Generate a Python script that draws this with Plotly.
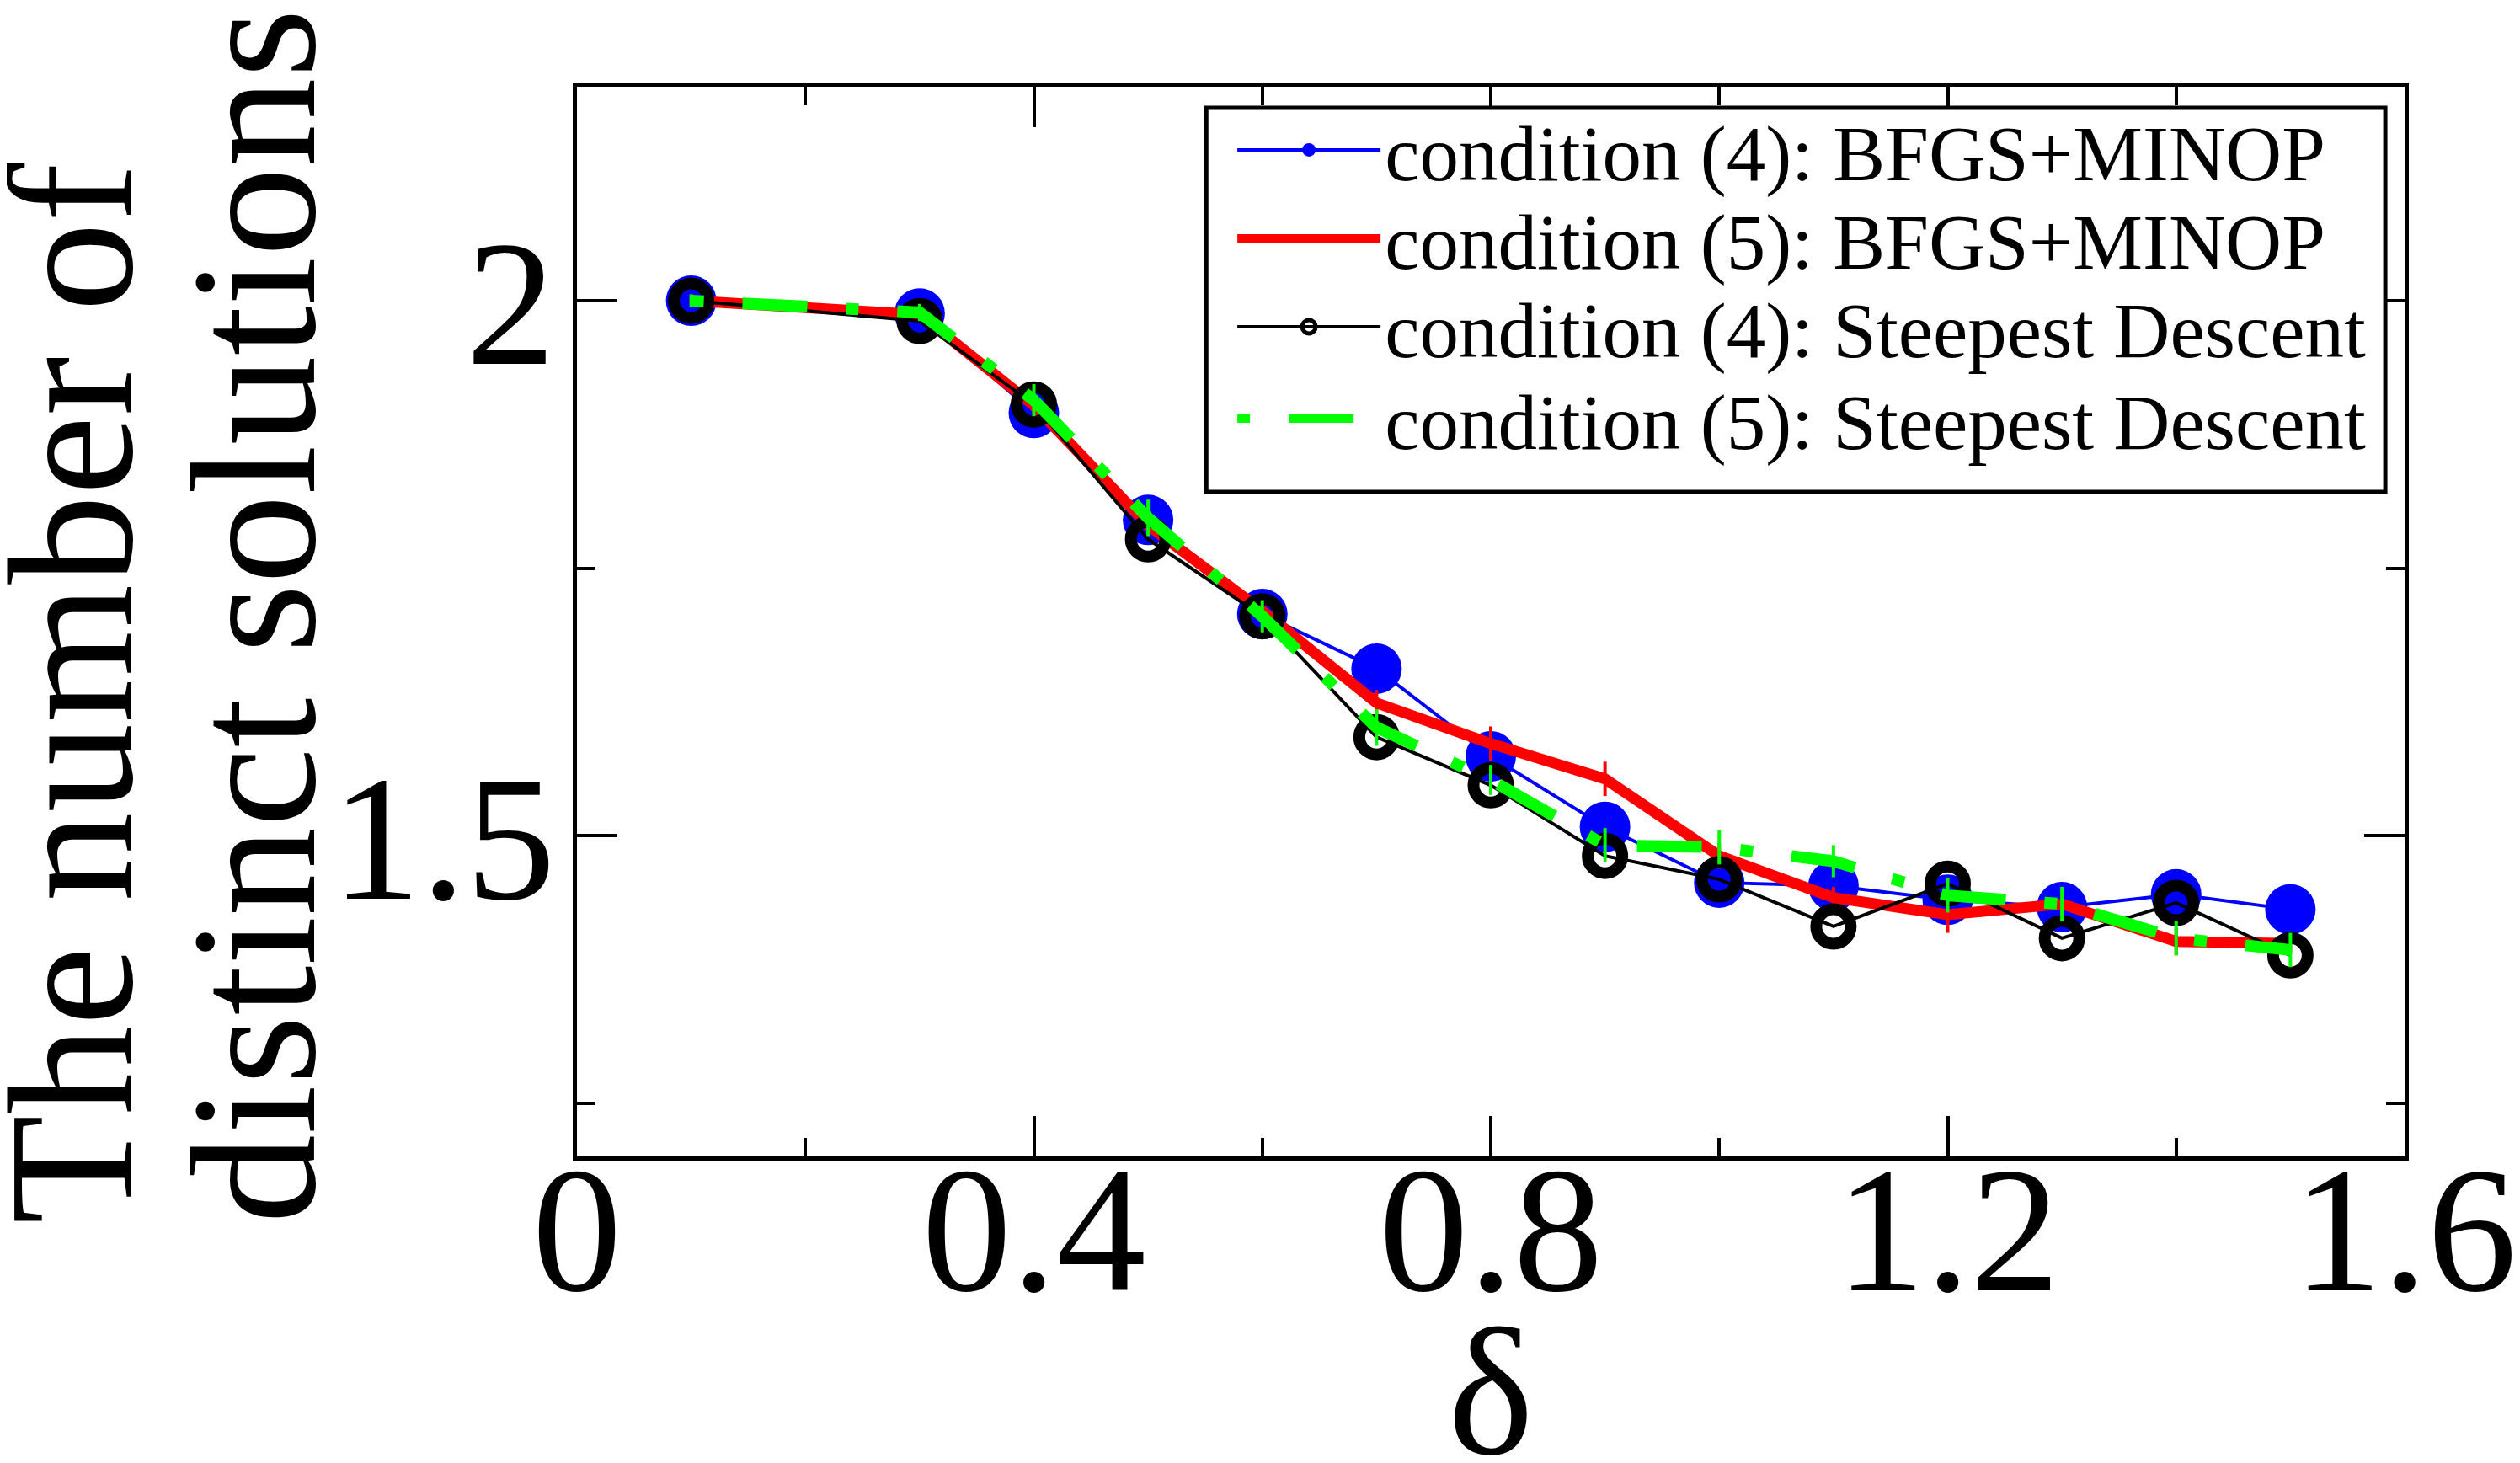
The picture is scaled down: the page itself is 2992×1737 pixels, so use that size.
import plotly.graph_objects as go

# ---- data ----
delta = [0.1, 0.3, 0.4, 0.5, 0.6, 0.7, 0.8, 0.9, 1.0, 1.1, 1.2, 1.3, 1.4, 1.5]

bfgs_c4 = [2.000, 1.988, 1.895, 1.795, 1.707, 1.656, 1.574, 1.508, 1.456, 1.453, 1.440, 1.433, 1.445, 1.431]
bfgs_c5 = [2.000, 1.987, 1.902, 1.790, 1.710, 1.624, 1.586, 1.553, 1.481, 1.442, 1.426, 1.436, 1.401, 1.399]
bfgs_c5_err = [0.004, 0.006, 0.008, 0.010, 0.010, 0.012, 0.016, 0.016, 0.012, 0.010, 0.017, 0.012, 0.013, 0.008]
sd_c4 = [2.000, 1.981, 1.903, 1.777, 1.705, 1.592, 1.547, 1.481, 1.459, 1.415, 1.455, 1.404, 1.437, 1.388]
sd_c5 = [2.000, 1.989, 1.907, 1.797, 1.705, 1.601, 1.552, 1.491, 1.489, 1.476, 1.444, 1.436, 1.404, 1.393]
sd_c5_err = [0.006, 0.008, 0.015, 0.017, 0.015, 0.017, 0.014, 0.016, 0.016, 0.015, 0.016, 0.016, 0.016, 0.016]

names = [
    "condition (4): BFGS+MINOP",
    "condition (5): BFGS+MINOP",
    "condition (4): Steepest Descent",
    "condition (5): Steepest Descent",
]
ytitle_lines = ["The number of", "distinct solutions"]
xtitle = "δ"

SERIF = "Liberation Serif, Times New Roman, serif"

# ---- page geometry (pixels) ----
W, H = 2992, 1737
L, R, T, B = 677, 137, 95, 372
plot_w = W - L - R
plot_h = H - T - B


def px_to_paper_x(px):
    return (px - L) / plot_w


def px_to_paper_y(py):
    return (H - B - py) / plot_h


fig = go.Figure()

fig.add_trace(go.Scatter(
    x=delta, y=bfgs_c4, name=names[0], mode="lines+markers", legend="legend",
    line=dict(color="#0000ff", width=4),
    marker=dict(symbol="circle", size=60, color="#0000ff"),
))
fig.add_trace(go.Scatter(
    x=delta, y=bfgs_c5, name=names[1], mode="lines", legend="legend2",
    line=dict(color="#ff0000", width=13),
    error_y=dict(type="data", array=bfgs_c5_err, color="#ff0000", thickness=4, width=0),
))
fig.add_trace(go.Scatter(
    x=delta, y=sd_c4, name=names[2], mode="lines+markers", legend="legend3",
    line=dict(color="#000000", width=4),
    marker=dict(symbol="circle-open", size=41, color="#000000",
                line=dict(color="#000000", width=14)),
))
fig.add_trace(go.Scatter(
    x=delta, y=sd_c5, name=names[3], mode="lines", legend="legend4",
    line=dict(color="#00ff00", width=14, dash="15px,46px,77px,46px"),
    error_y=dict(type="data", array=sd_c5_err, color="#00ff00", thickness=4, width=0),
))

axis_common = dict(
    showline=True, linecolor="black", linewidth=5, mirror="ticks",
    ticks="inside", ticklen=48, tickwidth=4, tickcolor="black",
    showgrid=False, zeroline=False,
    tickfont=dict(family=SERIF, size=213, color="black"),
)

fig.update_xaxes(
    range=[0, 1.6], tick0=0, dtick=0.4, ticklabelstandoff=-102,
    minor=dict(ticks="inside", ticklen=22, tickwidth=4, tickcolor="black", dtick=0.2, showgrid=False),
    **axis_common,
)
fig.update_yaxes(
    range=[1.2, 2.2], tick0=0, dtick=0.5, ticklabelstandoff=-22,
    minor=dict(ticks="inside", ticklen=22, tickwidth=4, tickcolor="black", dtick=0.25, showgrid=False),
    **axis_common,
)

annotations = [
    dict(text=ytitle_lines[0], xref="paper", yref="paper",
         x=px_to_paper_x(74), y=px_to_paper_y(1447), xanchor="center", yanchor="bottom",
         textangle=-90, showarrow=False, font=dict(family=SERIF, size=212, color="black")),
    dict(text=ytitle_lines[1], xref="paper", yref="paper",
         x=px_to_paper_x(292), y=px_to_paper_y(1447), xanchor="center", yanchor="bottom",
         textangle=-90, showarrow=False, font=dict(family=SERIF, size=212, color="black")),
    dict(text=xtitle, xref="paper", yref="paper",
         x=0.5, y=px_to_paper_y(1524), xanchor="center", yanchor="top",
         showarrow=False, font=dict(family=SERIF, size=216, color="black")),
]

# legend frame (decoration only)
legend_frame = dict(
    type="rect", xref="paper", yref="paper", layer="above",
    x0=px_to_paper_x(1427), x1=px_to_paper_x(2832),
    y0=px_to_paper_y(120), y1=px_to_paper_y(576),
    line=dict(color="black", width=5), fillcolor="white",
)

legend_font = dict(family=SERIF, size=93, color="black")
row_centers = [170, 275, 380, 489]
legend_x = px_to_paper_x(1459)


def legend_row(cy):
    return dict(
        x=legend_x, y=px_to_paper_y(cy), xanchor="left", yanchor="middle",
        bgcolor="rgba(0,0,0,0)", borderwidth=0, font=legend_font, itemwidth=170,
    )


fig.update_layout(
    width=W, height=H,
    margin=dict(l=L, r=R, t=T, b=B, pad=0),
    paper_bgcolor="white", plot_bgcolor="white",
    showlegend=True,
    legend=legend_row(row_centers[0]),
    legend2=legend_row(row_centers[1]),
    legend3=legend_row(row_centers[2]),
    legend4=legend_row(row_centers[3]),
    shapes=[legend_frame],
    annotations=annotations,
)

fig.write_html("out.html")
